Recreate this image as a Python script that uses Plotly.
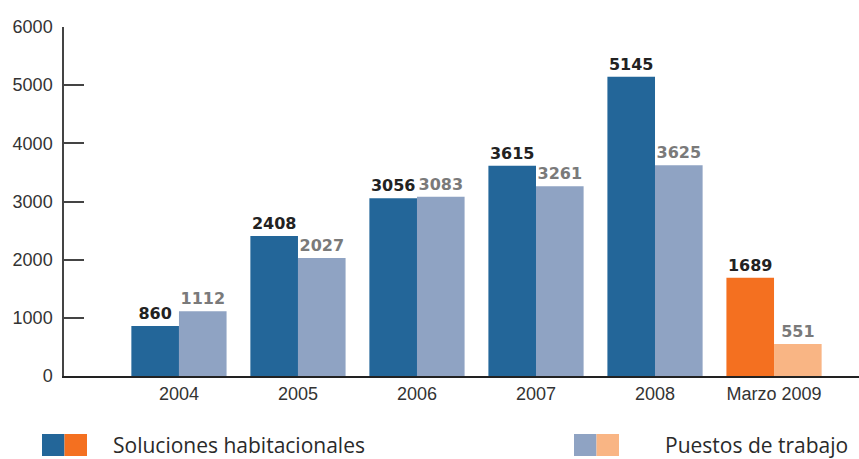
import plotly.graph_objects as go

categories = ["2004", "2005", "2006", "2007", "2008", "Marzo 2009"]
soluciones = [860, 2408, 3056, 3615, 5145, 1689]
puestos = [1112, 2027, 3083, 3261, 3625, 551]
y_ticks = [0, 1000, 2000, 3000, 4000, 5000, 6000]

blue, orange = "#236699", "#f47020"
lblue, lorange = "#8fa3c3", "#f9b584"
sol_colors = [blue] * 5 + [orange]
pue_colors = [lblue] * 5 + [lorange]

fig = go.Figure()
fig.add_trace(go.Bar(
    x=categories, y=soluciones, marker=dict(color=sol_colors, line=dict(width=0)),
    text=[str(v) for v in soluciones], textposition="outside", cliponaxis=False,
    textfont=dict(family="DejaVu Sans", size=16, color="#222222", weight="bold"),
    name="Soluciones habitacionales", showlegend=False))
fig.add_trace(go.Bar(
    x=categories, y=puestos, marker=dict(color=pue_colors, line=dict(width=0)),
    text=[str(v) for v in puestos], textposition="outside", cliponaxis=False,
    textfont=dict(family="DejaVu Sans", size=16, color="#7a7a7a", weight="bold"),
    name="Puestos de trabajo", showlegend=False))

fig.update_layout(
    width=859, height=459,
    margin=dict(l=64, r=0, t=27, b=83),
    paper_bgcolor="white", plot_bgcolor="white",
    barmode="group", bargap=0.2, bargroupgap=0,
    font=dict(family="Liberation Sans", size=18, color="#333333"),
    uniformtext=dict(mode=False),
    xaxis=dict(range=[-0.966, 5.714], showgrid=False, showline=True,
               linecolor="#222222", linewidth=2, ticks="", tickfont=dict(size=18, color="#333333")),
    yaxis=dict(range=[0, 6000], tickvals=y_ticks, showgrid=False, zeroline=False,
               showline=True, linecolor="#444444", linewidth=1.5,
               ticks="inside", ticklen=20, tickcolor="#444444", tickwidth=1.5,
               tickfont=dict(size=18, color="#333333"), ticklabelstandoff=6),
)

legend_items = [("Soluciones habitacionales", blue, orange, 42, 111),
                ("Puestos de trabajo", lblue, lorange, 574, 663)]
plot_h = 459 - 27 - 83
for label, c1, c2, sx, tx in legend_items:
    for i, c in enumerate([c1, c2]):
        fig.add_shape(type="rect", xref="paper", yref="paper",
                      x0=(sx + 22.5 * i - 64) / 795, x1=(sx + 22.5 * (i + 1) - 64) / 795,
                      y0=(376 - 456) / plot_h, y1=(376 - 434) / plot_h,
                      line=dict(width=0), fillcolor=c)
    fig.add_annotation(text=label, xref="paper", yref="paper",
                       x=(tx - 64) / 795, y=(376 - 445) / plot_h,
                       xanchor="left", yanchor="middle", showarrow=False,
                       font=dict(family="Open Sans", size=21, color="#2a2a2a", weight=500))

fig.write_html("out.html")
